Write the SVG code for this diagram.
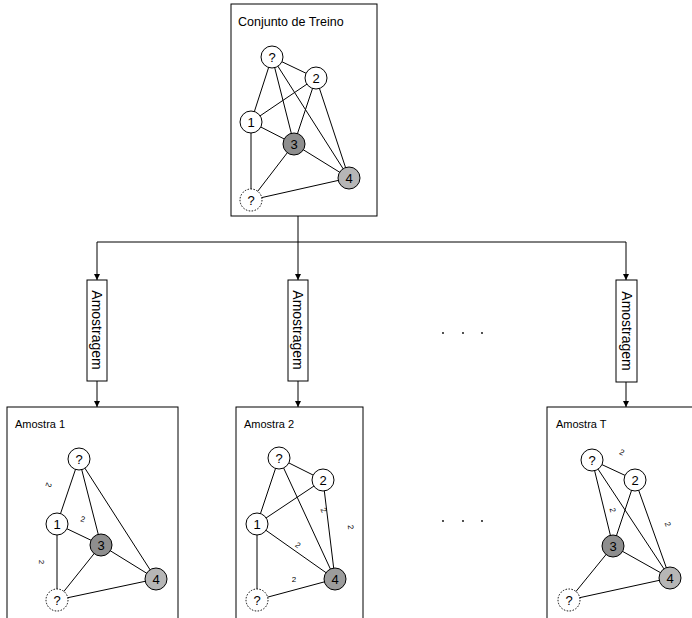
<svg xmlns="http://www.w3.org/2000/svg" width="692" height="618" viewBox="0 0 692 618">
  <style>
    .box { fill: #ffffff; stroke: #000000; stroke-width: 1; }
    .title { font-family: "Liberation Sans", Arial, sans-serif; font-size: 11px; fill: #000000; }
    .edge { stroke: #000000; stroke-width: 1; fill: none; }
    .node { stroke: #000000; stroke-width: 1; fill: #ffffff; }
    .node.dark { fill: #8e8e8e; }
    .node.light { fill: #b6b6b6; }
    .node.mid { fill: #9c9c9c; }
    .node.unk { stroke-dasharray: 1.5 1.5; }
    .lbl { font-family: "Liberation Sans", Arial, sans-serif; font-size: 13px; text-anchor: middle; fill: #000000; }
    .w { font-family: "Liberation Sans", Arial, sans-serif; font-size: 8px; text-anchor: middle; fill: #000000; }
    .samp { font-family: "Liberation Sans", Arial, sans-serif; font-size: 14px; text-anchor: middle; fill: #000000; }
    .conn { stroke: #000000; stroke-width: 1; fill: none; }
    .dot { fill: #000000; }
  </style>
  <defs>
    <marker id="arrow" markerWidth="6" markerHeight="6" refX="6" refY="3" orient="auto" markerUnits="userSpaceOnUse">
      <path d="M0,0 L6,3 L0,6 z" fill="#000000"/>
    </marker>
  </defs>

  <!-- connectors between the training set, the sampling steps and the samples -->
  <g id="connectors">
    <path class="conn" d="M298,216 V242"/>
    <path class="conn" d="M97,242 H626"/>
    <path class="conn" d="M97,242 V280" marker-end="url(#arrow)"/>
    <path class="conn" d="M298,242 V280" marker-end="url(#arrow)"/>
    <path class="conn" d="M626,242 V280" marker-end="url(#arrow)"/>
    <path class="conn" d="M97,381 V407" marker-end="url(#arrow)"/>
    <path class="conn" d="M298,381 V407" marker-end="url(#arrow)"/>
    <path class="conn" d="M626,382 V407" marker-end="url(#arrow)"/>
  </g>

  <!-- training set -->
  <g id="conjunto-treino">
    <rect class="box" x="231" y="4" width="146" height="212"/>
    <text class="title" x="238" y="26" style="font-size:12.5px">Conjunto de Treino</text>
    <g class="edges">
      <line class="edge" x1="272" y1="57" x2="316" y2="78"/>
      <line class="edge" x1="272" y1="57" x2="251" y2="122"/>
      <line class="edge" x1="272" y1="57" x2="294" y2="144"/>
      <line class="edge" x1="272" y1="57" x2="349" y2="178"/>
      <line class="edge" x1="316" y1="78" x2="251" y2="122"/>
      <line class="edge" x1="316" y1="78" x2="294" y2="144"/>
      <line class="edge" x1="316" y1="78" x2="349" y2="178"/>
      <line class="edge" x1="251" y1="122" x2="294" y2="144"/>
      <line class="edge" x1="251" y1="122" x2="251" y2="200"/>
      <line class="edge" x1="294" y1="144" x2="349" y2="178"/>
      <line class="edge" x1="294" y1="144" x2="251" y2="200"/>
      <line class="edge" x1="349" y1="178" x2="251" y2="200"/>
    </g>
    <circle class="node" cx="272" cy="57" r="11"/><text class="lbl" x="272" y="61.5">?</text>
    <circle class="node" cx="316" cy="78" r="11"/><text class="lbl" x="316" y="82.5">2</text>
    <circle class="node" cx="251" cy="122" r="11"/><text class="lbl" x="251" y="126.5">1</text>
    <circle class="node dark" cx="294" cy="144" r="11"/><text class="lbl" x="294" y="148.5">3</text>
    <circle class="node light" cx="349" cy="178" r="11"/><text class="lbl" x="349" y="182.5">4</text>
    <circle class="node unk" cx="251" cy="200" r="11"/><text class="lbl" x="251" y="204.5">?</text>
  </g>

  <!-- sampling steps -->
  <g id="amostragem-1">
    <rect class="box" x="87" y="280" width="20" height="101"/>
    <text class="samp" transform="translate(97,330) rotate(90)" y="5">Amostragem</text>
  </g>
  <g id="amostragem-2">
    <rect class="box" x="288" y="280" width="20" height="101"/>
    <text class="samp" transform="translate(298,330) rotate(90)" y="5">Amostragem</text>
  </g>
  <g id="amostragem-t">
    <rect class="box" x="616" y="280" width="21" height="102"/>
    <text class="samp" transform="translate(626.5,331) rotate(90)" y="5">Amostragem</text>
  </g>

  <!-- ellipses for the omitted samples -->
  <g id="reticencias">
    <circle class="dot" cx="443" cy="333" r="0.9"/>
    <circle class="dot" cx="463" cy="333" r="0.9"/>
    <circle class="dot" cx="482" cy="333" r="0.9"/>
    <circle class="dot" cx="443" cy="521" r="0.9"/>
    <circle class="dot" cx="463" cy="521" r="0.9"/>
    <circle class="dot" cx="482" cy="521" r="0.9"/>
  </g>

  <!-- sample 1 -->
  <g id="amostra-1">
    <rect class="box" x="7" y="407" width="171" height="220"/>
    <text class="title" x="15" y="428">Amostra 1</text>
    <g class="edges">
      <line class="edge" x1="79" y1="459" x2="57" y2="524"/>
      <line class="edge" x1="79" y1="459" x2="101" y2="545"/>
      <line class="edge" x1="79" y1="459" x2="156" y2="579"/>
      <line class="edge" x1="57" y1="524" x2="101" y2="545"/>
      <line class="edge" x1="57" y1="524" x2="57" y2="600"/>
      <line class="edge" x1="101" y1="545" x2="156" y2="579"/>
      <line class="edge" x1="101" y1="545" x2="57" y2="600"/>
      <line class="edge" x1="156" y1="579" x2="57" y2="600"/>
    </g>
    <text class="w" transform="translate(49,485) rotate(108)" y="3">2</text>
    <text class="w" transform="translate(83,519) rotate(15)" y="3">2</text>
    <text class="w" transform="translate(42,562) rotate(90)" y="3">2</text>
    <circle class="node" cx="79" cy="459" r="11"/><text class="lbl" x="79" y="463.5">?</text>
    <circle class="node" cx="57" cy="524" r="11"/><text class="lbl" x="57" y="528.5">1</text>
    <circle class="node dark" cx="101" cy="545" r="11"/><text class="lbl" x="101" y="549.5">3</text>
    <circle class="node light" cx="156" cy="579" r="11"/><text class="lbl" x="156" y="583.5">4</text>
    <circle class="node unk" cx="57" cy="600" r="11"/><text class="lbl" x="57" y="604.5">?</text>
  </g>

  <!-- sample 2 -->
  <g id="amostra-2">
    <rect class="box" x="236" y="407" width="127" height="220"/>
    <text class="title" x="244" y="428">Amostra 2</text>
    <g class="edges">
      <line class="edge" x1="279" y1="458" x2="323" y2="480"/>
      <line class="edge" x1="279" y1="458" x2="257" y2="524"/>
      <line class="edge" x1="279" y1="458" x2="335" y2="579"/>
      <line class="edge" x1="323" y1="480" x2="257" y2="524"/>
      <line class="edge" x1="323" y1="480" x2="335" y2="579"/>
      <line class="edge" x1="257" y1="524" x2="335" y2="579"/>
      <line class="edge" x1="257" y1="524" x2="257" y2="600"/>
      <line class="edge" x1="335" y1="579" x2="257" y2="600"/>
    </g>
    <text class="w" transform="translate(324,510) rotate(65)" y="3">2</text>
    <text class="w" transform="translate(351,527) rotate(83)" y="3">2</text>
    <text class="w" transform="translate(298,545) rotate(36)" y="3">2</text>
    <text class="w" transform="translate(294,579) rotate(0)" y="3">2</text>
    <circle class="node" cx="279" cy="458" r="11"/><text class="lbl" x="279" y="462.5">?</text>
    <circle class="node" cx="323" cy="480" r="11"/><text class="lbl" x="323" y="484.5">2</text>
    <circle class="node" cx="257" cy="524" r="11"/><text class="lbl" x="257" y="528.5">1</text>
    <circle class="node mid" cx="335" cy="579" r="11"/><text class="lbl" x="335" y="583.5">4</text>
    <circle class="node unk" cx="257" cy="600" r="11"/><text class="lbl" x="257" y="604.5">?</text>
  </g>

  <!-- sample T -->
  <g id="amostra-t">
    <rect class="box" x="547" y="407" width="160" height="220"/>
    <text class="title" x="556" y="428">Amostra T</text>
    <g class="edges">
      <line class="edge" x1="592" y1="460" x2="635" y2="480"/>
      <line class="edge" x1="592" y1="460" x2="613" y2="546"/>
      <line class="edge" x1="592" y1="460" x2="670" y2="578"/>
      <line class="edge" x1="635" y1="480" x2="613" y2="546"/>
      <line class="edge" x1="635" y1="480" x2="670" y2="578"/>
      <line class="edge" x1="613" y1="546" x2="670" y2="578"/>
      <line class="edge" x1="613" y1="546" x2="569" y2="600"/>
      <line class="edge" x1="670" y1="578" x2="569" y2="600"/>
    </g>
    <text class="w" transform="translate(622,452) rotate(25)" y="3">2</text>
    <text class="w" transform="translate(613,510) rotate(76)" y="3">2</text>
    <text class="w" transform="translate(668,524) rotate(70)" y="3">2</text>
    <circle class="node" cx="592" cy="460" r="11"/><text class="lbl" x="592" y="464.5">?</text>
    <circle class="node" cx="635" cy="480" r="11"/><text class="lbl" x="635" y="484.5">2</text>
    <circle class="node dark" cx="613" cy="546" r="11"/><text class="lbl" x="613" y="550.5">3</text>
    <circle class="node light" cx="670" cy="578" r="11"/><text class="lbl" x="670" y="582.5">4</text>
    <circle class="node unk" cx="569" cy="600" r="11"/><text class="lbl" x="569" y="604.5">?</text>
  </g>
</svg>
